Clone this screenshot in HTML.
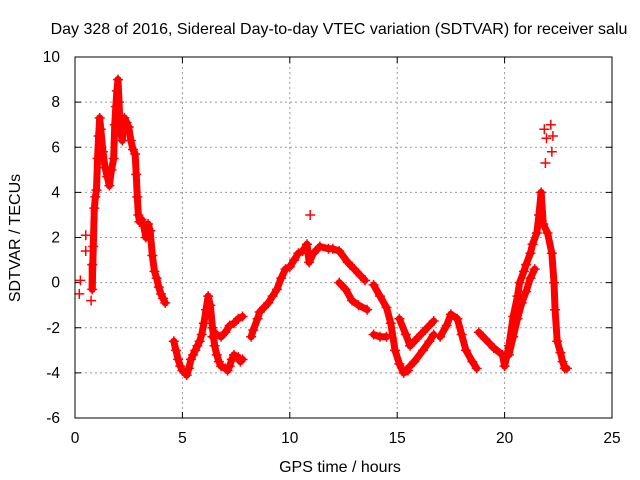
<!DOCTYPE html>
<html><head><meta charset="utf-8"><style>
body{margin:0;background:#fff}
svg{display:block;font-family:"Liberation Sans",sans-serif}
</style></head><body>
<svg id="chart" width="640" height="480">
<text x="339" y="34" text-anchor="middle" font-size="16">Day 328 of 2016, Sidereal Day-to-day VTEC variation (SDTVAR) for receiver salu</text>
<text x="340" y="472" text-anchor="middle" font-size="16">GPS time / hours</text>
<text transform="translate(20,238) rotate(-90)" text-anchor="middle" font-size="16">SDTVAR / TECUs</text>
<g id="grid"></g>
<g id="ticks"></g>
<g id="marks"></g>
<rect x="75" y="57" width="537" height="361" fill="none" stroke="#000" stroke-width="1"/>
</svg>
<script>
const xTicks=[0,5,10,15,20,25];
const yTicks=[-6,-4,-2,0,2,4,6,8,10];
const hours=[0.2,0.25,0.5,0.5,0.75,0.8,0.8,0.85,0.9,0.95,1.0,1.05,1.1,1.15,1.2,1.3,1.4,1.5,1.6,1.7,1.8,1.85,1.9,1.95,2.0,2.05,2.1,2.2,2.3,2.4,2.5,2.6,2.7,2.8,2.85,2.9,2.95,3.0,3.1,3.2,3.3,3.4,3.5,3.6,3.7,3.8,3.9,4.0,4.1,4.2,
4.6,4.7,4.8,4.9,5.0,5.1,5.2,5.3,5.4,5.5,5.6,5.7,5.8,5.9,6.0,6.1,6.2,6.3,6.4,6.5,6.6,6.7,6.8,7.0,7.1,7.2,7.3,7.4,7.5,7.6,7.7,7.8,
6.4,6.6,6.8,7.0,7.2,7.4,7.6,7.8,
8.2,8.3,8.5,8.6,8.8,9.0,9.2,9.4,9.6,9.8,10.0,10.2,10.4,10.6,10.8,10.9,11.1,11.4,11.8,12.0,12.3,12.7,13.0,13.3,13.5,
10.95,
12.3,12.6,12.9,13.2,13.6,
13.9,14.2,14.5,14.7,14.9,15.1,15.3,15.5,
13.9,14.2,14.5,
15.1,15.4,15.6,15.8,16.1,16.4,16.7,
15.4,15.8,16.2,16.5,16.7,
17.0,17.3,17.5,17.8,18.0,18.2,18.5,18.7,
18.8,19.1,19.5,19.9,20.0,20.2,20.4,20.6,20.7,20.9,21.0,21.2,21.3,21.5,21.6,21.7,21.8,22.0,22.2,22.3,22.35,22.45,22.6,22.7,22.8,22.9,
20.2,20.4,20.6,20.8,21.0,21.2,21.4,
21.85,21.9,21.95,22.15,22.2,22.25];
const sdtvar=[-0.5,0.1,2.1,1.4,-0.8,0.8,-0.3,1.6,3.3,3.8,4.1,5.5,6.5,7.3,6.8,5.8,5.1,4.7,4.3,5.0,5.5,7.0,7.8,8.5,9.0,8.0,6.8,6.3,7.3,7.1,6.9,6.3,5.9,5.7,4.8,3.8,3.0,2.7,2.8,2.5,2.0,2.6,2.3,1.2,0.5,0.2,-0.2,-0.5,-0.7,-0.9,
-2.6,-3.0,-3.4,-3.7,-3.9,-4.0,-4.1,-3.8,-3.4,-3.2,-3.0,-2.8,-2.6,-2.3,-1.8,-1.2,-0.6,-1.0,-2.0,-2.8,-3.2,-3.5,-3.7,-3.8,-3.9,-3.7,-3.4,-3.2,-3.3,-3.3,-3.5,-3.4,
-2.4,-2.3,-2.4,-2.2,-1.9,-1.8,-1.6,-1.5,
-2.4,-2.1,-1.6,-1.3,-1.1,-0.9,-0.6,-0.3,0.2,0.6,0.7,1.0,1.3,1.4,1.7,0.9,1.3,1.6,1.5,1.5,1.4,0.9,0.6,0.3,0.1,
3.0,
0.0,-0.3,-0.8,-1.0,-1.2,
-0.1,-0.6,-1.1,-1.8,-3.0,-3.6,-4.0,-3.9,
-2.3,-2.4,-2.4,
-1.6,-2.3,-2.8,-2.6,-2.3,-2.0,-1.7,
-3.9,-3.5,-3.0,-2.6,-2.3,
-2.4,-1.9,-1.4,-1.6,-2.3,-3.0,-3.5,-3.8,
-2.2,-2.5,-2.9,-3.2,-3.7,-2.8,-1.5,-0.6,0.0,0.5,0.8,1.3,1.7,2.2,3.0,4.0,2.6,2.2,1.3,0.0,-1.2,-2.6,-3.1,-3.5,-3.8,-3.8,
-3.2,-2.4,-1.6,-0.9,-0.4,0.2,0.6,
6.8,5.3,6.4,7.0,5.8,6.5];
const track=[0,1,2,3,4,5,5,5,5,5,5,5,5,5,5,5,5,5,5,5,5,5,5,5,5,5,5,5,5,5,5,5,5,5,5,5,5,5,5,5,5,5,5,5,5,5,5,5,5,5,
6,6,6,6,6,6,6,6,6,6,6,6,6,6,6,6,6,6,6,6,6,6,6,6,6,6,6,6,6,6,6,6,
7,7,7,7,7,7,7,7,
8,8,8,8,8,8,8,8,8,8,8,8,8,8,8,8,8,8,8,8,8,8,8,8,8,
9,
10,10,10,10,10,
11,11,11,11,11,11,11,11,
12,12,12,
13,13,13,13,13,13,13,
14,14,14,14,14,
15,15,15,15,15,15,15,15,
16,16,16,16,16,16,16,16,16,16,16,16,16,16,16,16,16,16,16,16,16,16,16,16,16,16,
17,17,17,17,17,17,17,
18,19,20,21,22,23];
const NS="http://www.w3.org/2000/svg";
const L=75,R=612,T=57,B=418;
function sx(t){return L+(t-0)/(25-0)*(R-L);}
function sy(v){return B-(v-(-6))/(10-(-6))*(B-T);}
const grid=document.getElementById('grid'),ticks=document.getElementById('ticks'),marks=document.getElementById('marks');
function mk(tag,attrs,parent){const e=document.createElementNS(NS,tag);for(const k in attrs)e.setAttribute(k,attrs[k]);parent.appendChild(e);return e;}
xTicks.forEach(t=>{
  const x=sx(t);
  if(t>0&&t<25){const g=mk('line',{x1:x,x2:x,y1:T,y2:B,stroke:'#999','stroke-dasharray':'2,3'},grid);
  
  }
  mk('line',{x1:x,x2:x,y1:B,y2:B-6,stroke:'#000'},ticks);
  mk('line',{x1:x,x2:x,y1:T,y2:T+6,stroke:'#000'},ticks);
  const lb=mk('text',{x:x,y:B+25,'text-anchor':'middle','font-size':'15.5'},ticks);
  lb.textContent=t;
  
  
});
yTicks.forEach(v=>{
  const y=sy(v);
  if(v>-6&&v<10){const g=mk('line',{x1:L,x2:R,y1:y,y2:y,stroke:'#999','stroke-dasharray':'2,3'},grid);
  
  }
  mk('line',{x1:L,x2:L+6,y1:y,y2:y,stroke:'#000'},ticks);
  mk('line',{x1:R,x2:R-6,y1:y,y2:y,stroke:'#000'},ticks);
  const lb=mk('text',{x:L-15,y:y+5,'text-anchor':'end','font-size':'15.5'},ticks);
  lb.textContent=v;
  
  
});
for(let i=1;i<hours.length;i++){
  if(track[i]===track[i-1]){
    const ln=mk('line',{x1:sx(hours[i-1]),y1:sy(sdtvar[i-1]),x2:sx(hours[i]),y2:sy(sdtvar[i]),stroke:'#f00','stroke-width':'7','stroke-linecap':'round'},marks);
    
    
  }
}
for(let i=0;i<hours.length;i++){
  const x=sx(hours[i]),y=sy(sdtvar[i]);
  const p=mk('path',{d:`M${x-5},${y}H${x+5}M${x},${y-5}V${y+5}`,stroke:'#f00','stroke-width':'1.5',fill:'none'},marks);
  
  
}
</script>
</body></html>
